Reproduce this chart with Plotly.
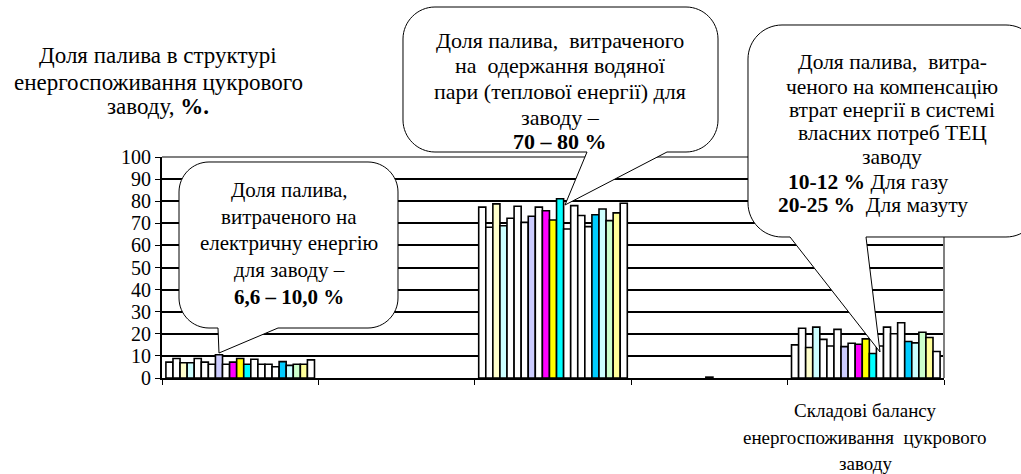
import plotly.graph_objects as go

# ---------------- data ----------------
categories = ["Електрична енергія", "Проміжок 1", "Теплова енергія", "Проміжок 2", "Власні потреби ТЕЦ"]

electric = [7.2, 8.8, 6.9, 6.9, 8.8, 7.2, 6.2, 10.5, 6.2, 7.2, 8.8, 6.2, 8.5, 6.2, 6.2, 5.1, 7.4, 5.7, 6.2, 6.2, 8.2]
gap1 = [None] * 21
steam = [77.3, 68.2, 78.8, 68.9, 72.3, 77.7, 70.4, 73.2, 77.3, 75.7, 71.5, 81.1, 67.4, 78.0, 73.5, 68.5, 73.9, 76.5, 71.2, 74.7, 79.1]
gap2 = [None] * 10 + [0.4] + [None] * 10
own_needs = [15.0, 22.5, 13.8, 23.0, 17.5, 14.5, 22.0, 14.2, 15.7, 15.3, 17.7, 11.1, 14.5, 23.0, 20.0, 25.0, 16.5, 15.9, 20.7, 18.3, 12.0]

series_colors = ["#FFFFFF", "#FFFFFF", "#FFFFCC", "#CCFFFF", "#FFFFFF", "#FFFFFF", "#FFFFFF",
                 "#CCCCFF", "#FFFFFF", "#FF00FF", "#FFFF00", "#00FFFF", "#FFFFFF", "#FFFFFF",
                 "#FFFFFF", "#FFFFFF", "#00CCFF", "#CCFFFF", "#CCFFCC", "#FFFF99", "#FFFFFF"]

y_ticks = [0, 10, 20, 30, 40, 50, 60, 70, 80, 90, 100]

title_lines = ["Доля палива в структурі", "енергоспоживання цукрового", "заводу, <b>%.</b>"]
xlabel_lines = ["Складові балансу", "енергоспоживання  цукрового", "заводу"]
bubble1_lines = ["Доля палива,", "витраченого на", "електричну енергію", "для заводу –", "<b>6,6 – 10,0 %</b>"]
bubble2_lines = ["Доля палива,  витраченого", "на  одержання водяної", "пари (теплової енергії) для", "заводу –", "<b>70 – 80 %</b>"]
bubble3_lines = ["Доля палива,  витра-", "ченого на компенсацію", "втрат енергії в системі", "власних потреб ТЕЦ", "заводу"]
bubble3_extra = ["<b>10-12 %</b> Для газу", "<b>20-25 %</b>  Для мазуту"]

# ---------------- geometry ----------------
W, H = 1021, 474
L, R, T, B = 162, 944, 157, 378
FONT = "Times New Roman, Liberation Serif, Tinos, DejaVu Serif"


def fx(px):
    return (px - L) / (R - L)


def fy(py):
    return (B - py) / (B - T)


def bubble_path(x0, y0, x1, y1, r, tl, tr, tip):
    k = 0.45
    pts = []
    pts.append(("M", [(x0 + r, y0)]))
    pts.append(("L", [(x1 - r, y0)]))
    pts.append(("C", [(x1 - r * k, y0), (x1, y0 + r * k), (x1, y0 + r)]))
    pts.append(("L", [(x1, y1 - r)]))
    pts.append(("C", [(x1, y1 - r * k), (x1 - r * k, y1), (x1 - r, y1)]))
    pts.append(("L", [(tr, y1)]))
    pts.append(("L", [tip]))
    pts.append(("L", [(tl, y1)]))
    pts.append(("L", [(x0 + r, y1)]))
    pts.append(("C", [(x0 + r * k, y1), (x0, y1 - r * k), (x0, y1 - r)]))
    pts.append(("L", [(x0, y0 + r)]))
    pts.append(("C", [(x0, y0 + r * k), (x0 + r * k, y0), (x0 + r, y0)]))
    s = ""
    for cmd, ps in pts:
        s += cmd + " " + " ".join(f"{fx(p[0]):.5f},{fy(p[1]):.5f}" for p in ps) + " "
    return s + "Z"


fig = go.Figure()
for i in range(21):
    fig.add_trace(go.Bar(
        x=categories,
        y=[electric[i], gap1[i], steam[i], gap2[i], own_needs[i]],
        marker=dict(color=series_colors[i], line=dict(color="black", width=1.6)),
        showlegend=False,
        name=f"Ряд {i + 1}",
    ))

shapes = []
shapes.append(dict(type="line", xref="paper", yref="paper", x0=0, x1=1, y0=1, y1=1,
                   line=dict(color="#808080", width=2), layer="above"))
shapes.append(dict(type="line", xref="paper", yref="paper", x0=1, x1=1, y0=0, y1=1,
                   line=dict(color="#808080", width=2), layer="above"))
for (x0, y0, x1, y1, r, tl, tr, tip) in [
    (179, 162, 398, 328, 30, 218, 278, (219, 353)),
    (403, 7, 718, 152, 32, 587, 667, (565, 205)),
    (748, 25, 1040, 237, 34, 790, 866, (880, 352)),
]:
    shapes.append(dict(type="path", xref="paper", yref="paper",
                       path=bubble_path(x0, y0, x1, y1, r, tl, tr, tip),
                       fillcolor="white", line=dict(color="black", width=1), layer="above"))

annotations = []


def add_lines(lines, cx, ys, size):
    for txt, yy in zip(lines, ys):
        annotations.append(dict(text=txt, x=fx(cx), y=fy(yy), xref="paper", yref="paper",
                                showarrow=False, xanchor="center", yanchor="middle",
                                font=dict(family=FONT, size=size, color="black")))


add_lines(title_lines, 158, [55, 82, 107], 23)
add_lines(xlabel_lines, 865, [410, 437, 463], 19)
add_lines(bubble1_lines, 289, [190, 216.7, 243.3, 270, 296.7], 21)
add_lines(bubble2_lines, 560, [40, 66, 92, 117, 141], 22)
add_lines(bubble3_lines, 892, [61.7, 86.7, 110, 133, 156.7], 21.5)
add_lines(bubble3_extra[:1], 868, [181.7], 21.5)
add_lines(bubble3_extra[1:], 873, [205], 21.5)

fig.update_layout(
    width=W, height=H,
    margin=dict(l=L, r=W - R, t=T, b=H - B, pad=0),
    paper_bgcolor="white", plot_bgcolor="white",
    barmode="group", bargap=0.05, bargroupgap=0,
    shapes=shapes, annotations=annotations,
    font=dict(family=FONT, color="black"),
)
fig.update_xaxes(showticklabels=False, ticks="outside", tickson="boundaries", ticklen=5,
                 tickcolor="black", tickwidth=1, showline=True, linecolor="black", linewidth=2,
                 showgrid=False, zeroline=False)
fig.update_yaxes(range=[0, 100], tickvals=y_ticks, ticks="outside", ticklen=5, tickcolor="black",
                 tickwidth=1, showline=True, linecolor="black", linewidth=2,
                 showgrid=True, gridcolor="black", gridwidth=1.5, zeroline=False,
                 tickfont=dict(family=FONT, size=20, color="black"))

fig.write_html("out.html", config={"displayModeBar": False},
               post_script="document.body.style.margin='0';")
